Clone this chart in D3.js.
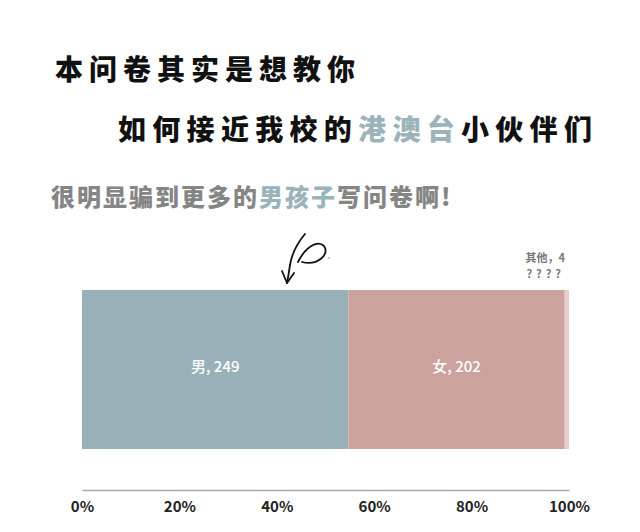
<!DOCTYPE html>
<html>
<head>
<meta charset="utf-8">
<script src="https://cdn.jsdelivr.net/npm/d3@7"></script>
<style>
  body { margin: 0; background: #fff; }
  svg text { font-family: "Noto Sans CJK SC", "Noto Sans", sans-serif; }
</style>
</head>
<body>
<div id="chart"></div>
<script>
// data
const categories = ['男', '女', '其他'];
const counts = [249, 202, 4];
const tickValues = [0, 0.2, 0.4, 0.6, 0.8, 1];
const tickLabels = ['0%', '20%', '40%', '60%', '80%', '100%'];
const colors = ['#98b1b8', '#cba29d', '#e9cdcd'];

const W = 640, H = 532;
const margin = {left: 82, right: 71, barTop: 290, barBottom: 449, axisY: 490};

const svg = d3.select('#chart').append('svg')
    .attr('width', W)
    .attr('height', H);

// headings
const t1 = svg.append('text')
    .attr('x', 55).attr('y', 80)
    .attr('font-size', 28).attr('font-weight', 900)
    .attr('letter-spacing', 6)
    .attr('fill', '#111');
t1.append('tspan').text('本问卷其实是想教你');

const t2 = svg.append('text')
    .attr('x', 118).attr('y', 140)
    .attr('font-size', 28).attr('font-weight', 900)
    .attr('letter-spacing', 6.3)
    .attr('fill', '#111');
t2.append('tspan').text('如何接近我校的');
t2.append('tspan').attr('fill', '#9cb3b9').text('港澳台');
t2.append('tspan').text('小伙伴们');

const t3 = svg.append('text')
    .attr('x', 51).attr('y', 206)
    .attr('font-size', 24).attr('font-weight', 900)
    .attr('letter-spacing', 2)
    .attr('fill', '#858585');
t3.append('tspan').text('很明显骗到更多的');
t3.append('tspan').attr('fill', '#9ab3ba').text('男孩子');
t3.append('tspan').text('写问卷啊!');

// scales
const total = d3.sum(counts);
let acc = 0;
const stack = counts.map((c, i) => {
    const d = {key: categories[i], value: c, x0: acc / total, x1: (acc + c) / total, color: colors[i]};
    acc += c;
    return d;
});

const x = d3.scaleLinear()
    .domain([0, 1])
    .range([margin.left, W - margin.right]);

// bars
svg.selectAll('rect.seg')
    .data(stack)
    .join('rect')
    .attr('class', 'seg')
    .attr('x', d => x(d.x0))
    .attr('y', margin.barTop)
    .attr('width', d => x(d.x1) - x(d.x0))
    .attr('height', margin.barBottom - margin.barTop)
    .attr('fill', d => d.color);

// labels inside the big segments
svg.selectAll('text.lab')
    .data(stack.filter(d => d.value > 20))
    .join('text')
    .attr('class', 'lab')
    .attr('x', d => x((d.x0 + d.x1) / 2))
    .attr('y', 372)
    .attr('text-anchor', 'middle')
    .attr('font-size', 15)
    .attr('font-weight', 500)
    .attr('fill', '#fff')
    .text(d => `${d.key}, ${d.value}`);

// label for the tiny segment, above the bar (two separate lines)
const small = stack.filter(d => d.value <= 20);
small.forEach(d => {
    svg.append('text')
        .attr('x', x(d.x1) - 4)
        .attr('y', 262)
        .attr('text-anchor', 'end')
        .attr('font-size', 11)
        .attr('font-weight', 700)
        .attr('fill', '#777')
        .text(`${d.key}，${d.value}`);
    svg.append('text')
        .attr('x', x(d.x1) - 4)
        .attr('y', 278)
        .attr('text-anchor', 'end')
        .attr('font-size', 11)
        .attr('font-weight', 700)
        .attr('font-family', 'Lato, "DejaVu Sans", sans-serif')
        .attr('letter-spacing', 4)
        .attr('fill', '#777')
        .text('????');
});

// axis
const axis = svg.append('g')
    .attr('transform', `translate(0, ${margin.axisY})`)
    .call(d3.axisBottom(x).tickValues(tickValues).tickFormat((d, i) => tickLabels[i]).tickSize(0).tickPadding(11));
axis.select('.domain').attr('stroke', '#aaa').attr('stroke-width', 1.5);
axis.selectAll('text')
    .attr('font-size', 15)
    .attr('font-weight', 700)
    .attr('font-family', 'Lato, "Noto Sans", sans-serif')
    .attr('fill', '#222');

// hand-drawn arrow
svg.append('path')
    .attr('d', 'M305,234 C300,240 292,252 290,265 C289,272 288,278 287,283 M298,262 C306,246 318,240 324,246 C330,254 318,266 302,262')
    .attr('fill', 'none')
    .attr('stroke', '#111')
    .attr('stroke-width', 1.8)
    .attr('stroke-linecap', 'round');
svg.append('path')
    .attr('d', 'M282,271 L287,283 L294,273')
    .attr('fill', 'none')
    .attr('stroke', '#111')
    .attr('stroke-width', 1.8)
    .attr('stroke-linecap', 'round')
    .attr('stroke-linejoin', 'round');
svg.append('circle').attr('cx', 329).attr('cy', 258).attr('r', 0.8).attr('fill', '#888');
</script>
</body>
</html>
